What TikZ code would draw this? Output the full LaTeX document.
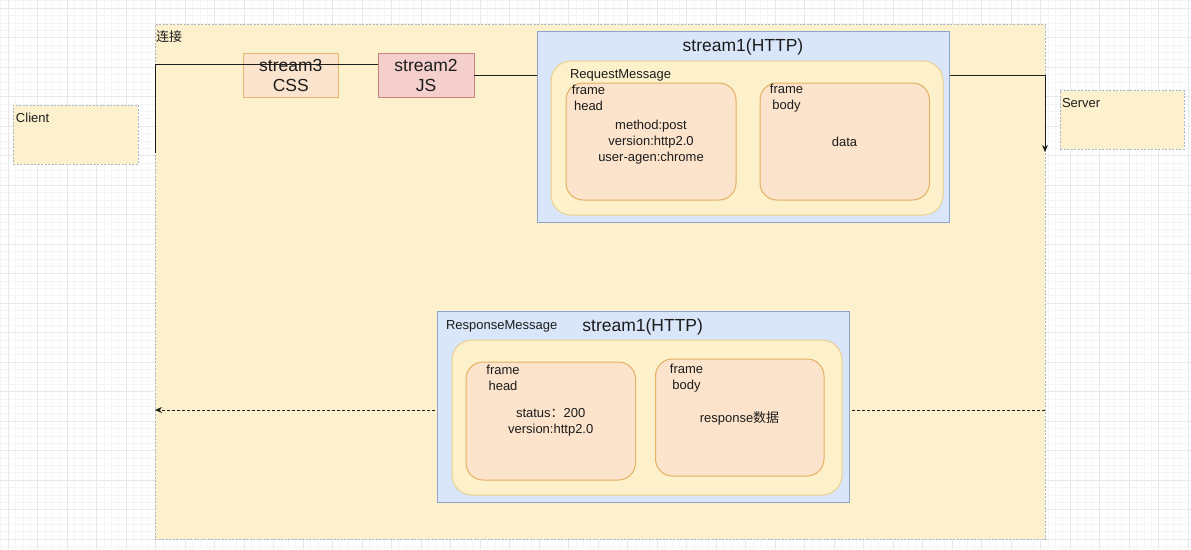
\documentclass[tikz,border=0pt]{standalone}
\usepackage{fontspec}
\setmainfont{Liberation Sans}
\newfontfamily\cjk{Noto Sans CJK SC}
\usetikzlibrary{arrows.meta,calc}
\definecolor{conyel}{HTML}{FCF0CD}
\definecolor{dashbd}{HTML}{A9B7C9}
\definecolor{orfill}{HTML}{FBE4CE}
\definecolor{orbd}{HTML}{E5B86E}
\definecolor{redfill}{HTML}{F4CFCC}
\definecolor{redbd}{HTML}{C7837F}
\definecolor{bluefill}{HTML}{D9E5F9}
\definecolor{bluebd}{HTML}{8DA4CC}
\definecolor{inyel}{HTML}{FDF1CC}
\definecolor{inyelbd}{HTML}{EAD08C}
\definecolor{frfill}{HTML}{FCE3CB}
\definecolor{frbd}{HTML}{E4B062}
\definecolor{gridmaj}{HTML}{E6E8EA}
\definecolor{gridmin}{HTML}{F4F5F6}
\definecolor{ink}{HTML}{1C1C1C}
\begin{document}
\begin{tikzpicture}[x=1pt,y=-1pt,
  every node/.style={inner sep=0pt, outer sep=0pt, text=ink},
  small/.style={font=\fontsize{13}{15.7}\selectfont},
  big/.style={font=\fontsize{17.5}{20.7}\selectfont},
  dbox/.style={draw=dashbd, fill=conyel, line width=0.8pt, dash pattern=on 2pt off 1.5pt},
  sbox/.style={line width=1pt},
  blbox/.style={draw=bluebd, fill=bluefill, line width=1pt},
  ylbox/.style={draw=inyelbd, fill=inyel, line width=1pt, rounded corners=20pt},
  frbox/.style={draw=frbd, fill=frfill, line width=1pt, rounded corners=17pt},
  conn/.style={draw=ink, line width=1pt},
  tip/.style={-{Stealth[length=7pt,width=6pt]}}
]
\useasboundingbox (0,0) rectangle (1191,549);
\fill[white] (0,0) rectangle (1191,549);
% background grid
\foreach \i in {0,...,170} {
  \draw[gridmin, line width=0.5pt] ({155.5+7.375*(\i-24)},0) -- ++(0,549);
}
\foreach \i in {-4,...,75} {
  \draw[gridmin, line width=0.5pt] (0,{539-7.375*\i}) -- ++(1191,0);
}
\foreach \i in {0,...,41} {
  \draw[gridmaj, line width=0.8pt] ({155.5+29.5*(\i-6)},0) -- ++(0,549);
}
\foreach \i in {-1,...,18} {
  \draw[gridmaj, line width=0.8pt] (0,{539-29.5*\i}) -- ++(1191,0);
}
% container and end boxes
\node[dbox, minimum width=890pt, minimum height=515pt] (conn) at (600,281.5) {};
\node[small, anchor=west] (connlbl) at (156,36.5) {\cjk 连接};
\node[dbox, minimum width=125pt, minimum height=59pt] (client) at (75.5,134.5) {};
\node[small, anchor=west] (clientlbl) at (16,118) {Client};
\node[dbox, minimum width=124pt, minimum height=58.5pt] (server) at (1122,119.75) {};
\node[small, anchor=west] (serverlbl) at (1062,103) {Server};
% streams 3 and 2
\node[sbox, draw=orbd, fill=orfill, minimum width=95.5pt, minimum height=44pt] (s3) at (290.75,75.4) {};
\node[sbox, draw=redbd, fill=redfill, minimum width=96pt, minimum height=44pt] (s2) at (426,75.4) {};
% request stream1
\node[blbox, minimum width=412.5pt, minimum height=191pt] (req) at (743.25,126.5) {};
\node[ylbox, minimum width=392pt, minimum height=154pt] (reqmsg) at (747,138) {};
\node[frbox, minimum width=170pt, minimum height=117pt] (rqhead) at (651,141.5) {};
\node[frbox, minimum width=169.5pt, minimum height=117pt] (rqbody) at (844.75,141.5) {};
\node[big] (reqtitle) at (743,47) {stream1(HTTP)};
\node[small, anchor=west] (reqmsglbl) at (570,75) {RequestMessage};
\node[small, align=center] (rqheadlbl) at (588.5,98) {frame\\head};
\node[small, align=center] (rqbodylbl) at (786.5,98) {frame\\body};
\node[small, align=center] (rqheadtxt) at (651,142) {method:post\\version:http2.0\\user-agen:chrome};
\node[small] (rqbodytxt) at (844.5,142) {data};
% connectors (request path)
\coordinate (cstart) at (155,153);
\coordinate (s2in) at ($(s2.west)+(0,-11)$);
\coordinate (srvend) at (1045,152);
\draw[conn] (cstart) |- (s2in);
\draw[conn] (s2.east) -- (s2.east -| req.west);
\draw[conn, tip] (req.east |- s2.east) -| (srvend);
% stream texts on top of the line
\node[big, align=center] (s3txt) at (290.75,75.6) {stream3\\CSS};
\node[big, align=center] (s2txt) at (426,75.6) {stream2\\JS};
% response dashed connector
\coordinate (rstart) at (1045,410);
\coordinate (rend) at (155,410);
\draw[conn, tip, dash pattern=on 3pt off 2pt] (rstart) -- (rend);
% response stream1
\node[blbox, minimum width=412pt, minimum height=190.5pt] (resp) at (643,406.75) {};
\node[ylbox, minimum width=390pt, minimum height=155pt] (respmsg) at (647,417.5) {};
\node[frbox, minimum width=169.5pt, minimum height=118pt] (rshead) at (550.75,421) {};
\node[frbox, minimum width=168.5pt, minimum height=117pt] (rsbody) at (739.75,417.5) {};
\node[big] (resptitle) at (642.7,327) {stream1(HTTP)};
\node[small, anchor=west] (respmsglbl) at (446,326.5) {ResponseMessage};
\node[small, align=center] (rsheadlbl) at (503,378) {frame\\head};
\node[small, align=center] (rsbodylbl) at (686.5,378) {frame\\body};
\node[small, align=center] (rsheadtxt) at (550.7,422) {status{\cjk ：}200\\version:http2.0};
\node[small] (rsbodytxt) at (739.5,418) {response{\cjk 数据}};
\end{tikzpicture}
\end{document}
